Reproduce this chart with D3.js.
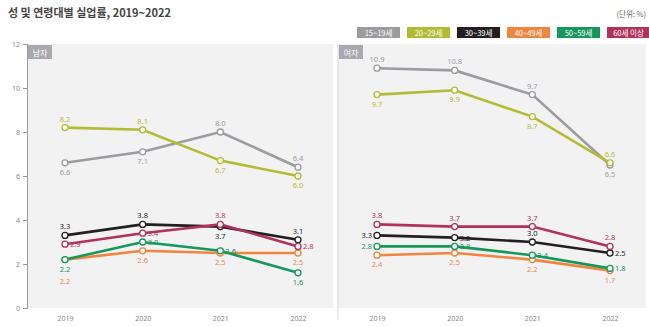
<!DOCTYPE html>
<html><head><meta charset="utf-8">
<script src="https://cdn.jsdelivr.net/npm/d3@7"></script>
<style>body{margin:0;background:#fff;font-family:"Noto Sans CJK KR","Noto Sans",sans-serif}</style>
</head><body><svg id="c" width="649" height="327"></svg>
<script>
const years = ["2019","2020","2021","2022"];
const groups = ["15~19세","20~29세","30~39세","40~49세","50~59세","60세 이상"];
const panels = ["남자","여자"];
const yTicks = [0,2,4,6,8,10,12];
// male
const male15 = [6.6,7.1,8.0,6.4];
const male20 = [8.2,8.1,6.7,6.0];
const male30 = [3.3,3.8,3.7,3.1];
const male40 = [2.2,2.6,2.5,2.5];
const male50 = [2.2,3.0,2.6,1.6];
const male60 = [2.9,3.4,3.8,2.8];
// female
const female15 = [10.9,10.8,9.7,6.5];
const female20 = [9.7,9.9,8.7,6.6];
const female30 = [3.3,3.2,3.0,2.5];
const female40 = [2.4,2.5,2.2,1.7];
const female50 = [2.8,2.8,2.4,1.8];
const female60 = [3.8,3.7,3.7,2.8];

const colors = ["#9b9ba0","#b3bb34","#231f20","#f08540","#16975b","#b1325c"];
// label placement (style): a=above, b=below, b2=further below, r=right, l=left
const placeM = [["b","b","a","a"],["a","a","b","b"],["a","a","b","a"],["b2","b","b","b"],["b","r","r","b"],["r","r","a","r"]];
const placeF = [["a","a","a","b"],["b","b","b","a"],["l","r","a","r"],["b","b","b","b"],["l","r","r","r"],["a","a","a","a"]];

const data = [
  [male15,male20,male30,male40,male50,male60],
  [female15,female20,female30,female40,female50,female60]
];
const places=[placeM,placeF];

const svg = d3.select("#c");
svg.append("text").attr("x",8).attr("y",17).attr("font-size",11).attr("font-weight","bold").attr("fill","#444").text("성 및 연령대별 실업률, 2019~2022");
svg.append("text").attr("x",646).attr("y",17).attr("text-anchor","end").attr("font-size",7.5).attr("fill","#666").text("(단위: %)");

// legend
const lg = svg.append("g");
groups.forEach((g,i)=>{
  const x = 357 + i*50;
  lg.append("rect").attr("x",x).attr("y",27).attr("width",43).attr("height",11).attr("fill",colors[i]);
  lg.append("text").attr("x",x+21.5).attr("y",35.5).attr("text-anchor","middle").attr("font-size",7.5).attr("fill","#fff").text(g);
});

const y = d3.scaleLinear().domain([0,12]).range([308,44]);
const panelX = [[27,333],[338,646]];
const xs = [
  d3.scalePoint().domain(years).range([65,298]),
  d3.scalePoint().domain(years).range([377,610])
];

panels.forEach((p,pi)=>{
  const [x0,x1]=panelX[pi];
  svg.append("rect").attr("x",x0).attr("y",44).attr("width",x1-x0).attr("height",264).attr("fill","#f2f2f3");
  if(pi===1) svg.append("line").attr("x1",x0).attr("x2",x0).attr("y1",44).attr("y2",320).attr("stroke","#d8d8d8");
  svg.append("rect").attr("x",x0+1).attr("y",45).attr("width",24).attr("height",14).attr("fill","#a9a9ad");
  svg.append("text").attr("x",x0+13).attr("y",55.5).attr("text-anchor","middle").attr("font-size",8).attr("fill","#fff").text(p);
  // x axis labels
  svg.append("g").attr("transform",`translate(0,308)`).call(d3.axisBottom(xs[pi]).tickSize(0).tickPadding(8))
    .call(g=>{g.select(".domain").remove();g.selectAll("text").attr("font-size",7).attr("fill","#888").attr("font-family","Noto Sans, sans-serif");});
});

// y axis
svg.append("g").attr("transform","translate(27,0)").call(d3.axisLeft(y).tickValues(yTicks).tickSize(4).tickPadding(3))
  .call(g=>{g.select(".domain").attr("stroke","#999");g.selectAll("line").attr("stroke","#999");g.selectAll("text").attr("font-size",7).attr("fill","#888").attr("font-family","Noto Sans, sans-serif");});

data.forEach((series,pi)=>{
  const x = xs[pi];
  const line = d3.line().x((d,i)=>x(years[i])).y(d=>y(d));
  series.forEach((vals,si)=>{
    svg.append("path").attr("d",line(vals)).attr("fill","none").attr("stroke",colors[si]).attr("stroke-width",2.6);
  });
  series.forEach((vals,si)=>{
    const g = svg.append("g");
    g.selectAll("circle").data(vals).join("circle")
      .attr("cx",(d,i)=>x(years[i])).attr("cy",d=>y(d)).attr("r",3)
      .attr("fill","#fff").attr("stroke",colors[si]).attr("stroke-width",1.3);
    g.selectAll("text").data(vals).join("text")
      .attr("x",(d,i)=>{const pl=places[pi][si][i]; return x(years[i]) + (pl==="r"?5:pl==="l"?-5:0);})
      .attr("y",(d,i)=>{const pl=places[pi][si][i]; return y(d) + (pl==="a"?-6:pl==="b"?12:pl==="b2"?24:3);})
      .attr("text-anchor",(d,i)=>{const pl=places[pi][si][i]; return pl==="r"?"start":pl==="l"?"end":"middle";})
      .attr("font-size",7.5).attr("fill",colors[si]==="#231f20"?"#231f20":colors[si])
      .attr("font-family","Noto Sans, sans-serif")
      .text(d=>d.toFixed(1));
  });
});
</script></body></html>
